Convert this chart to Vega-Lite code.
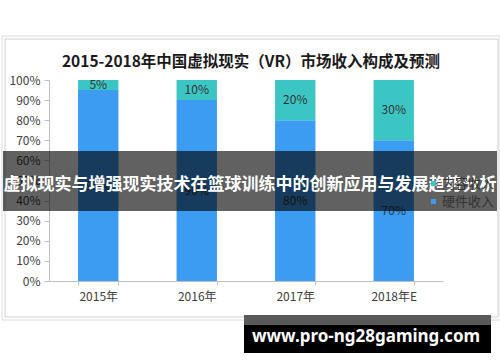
{
  "$schema": "https://vega.github.io/schema/vega-lite/v6.json",
  "width": 394,
  "height": 201,
  "autosize": {"type": "none"},
  "padding": {"left": 49, "top": 80, "right": 57, "bottom": 81},
  "background": "white",
  "title": {
    "text": "2015-2018年中国虚拟现实（VR）市场收入构成及预测",
    "font": "Noto Sans CJK SC",
    "fontSize": 15.5,
    "fontWeight": "bold",
    "color": "#1a1a1a",
    "anchor": "middle",
    "frame": "group",
    "dx": 5,
    "offset": -50,
    "baseline": "bottom"
  },
  "data": {
    "values": [
      {"year": "2015年", "type": "硬件收入", "share": 0.95},
      {"year": "2015年", "type": "内容收入", "share": 0.05},
      {"year": "2016年", "type": "硬件收入", "share": 0.9},
      {"year": "2016年", "type": "内容收入", "share": 0.1},
      {"year": "2017年", "type": "硬件收入", "share": 0.8},
      {"year": "2017年", "type": "内容收入", "share": 0.2},
      {"year": "2018年E", "type": "硬件收入", "share": 0.7},
      {"year": "2018年E", "type": "内容收入", "share": 0.3}
    ]
  },
  "config": {
    "view": {"stroke": null},
    "axis": {
      "labelFont": "Noto Sans CJK SC",
      "labelFontSize": 12,
      "labelColor": "#404040",
      "domainColor": "#bfbfbf",
      "tickColor": "#bfbfbf",
      "grid": false,
      "labelOverlap": false,
      "title": null
    },
    "legend": {
      "orient": "none",
      "legendX": 378,
      "legendY": 97,
      "padding": 0,
      "symbolType": "square",
      "symbolSize": 25,
      "symbolStrokeWidth": 0,
      "labelFont": "Noto Sans CJK SC",
      "labelFontSize": 13,
      "labelColor": "#333333",
      "rowPadding": 4,
      "labelOffset": 2
    }
  },
  "layer": [
    {
      "data": {"values": [{}]},
      "mark": {"type": "rect", "fill": "transparent", "stroke": "#dcdcdc", "strokeWidth": 1},
      "encoding": {"x": {"value": -47}, "x2": {"value": 451}, "y": {"value": -44}, "y2": {"value": 240}}
    },
    {
      "data": {"values": [{}]},
      "mark": {"type": "rect", "fill": "transparent", "stroke": "#cfcfcf", "strokeWidth": 1},
      "encoding": {"x": {"value": -44}, "x2": {"value": 449}, "y": {"value": -41}, "y2": {"value": 237}}
    },
    {
      "mark": {"type": "bar"},
      "encoding": {
        "x": {
          "field": "year",
          "type": "nominal",
          "sort": null,
          "scale": {"paddingInner": 0.59, "paddingOuter": 0.295},
          "axis": {"labelAngle": 0, "tickBand": "extent", "tickSize": 4, "labelPadding": 6}
        },
        "y": {
          "field": "share",
          "type": "quantitative",
          "stack": "zero",
          "scale": {"domain": [0, 1], "nice": false},
          "axis": {"format": ".0%", "values": [0, 0.1, 0.2, 0.3, 0.4, 0.5, 0.6, 0.7, 0.8, 0.9, 1], "tickSize": 5, "labelPadding": 4, "labelOverlap": false}
        },
        "color": {
          "field": "type",
          "type": "nominal",
          "scale": {"domain": ["内容收入", "硬件收入"], "range": ["#3cc6c3", "#3b9cf2"]},
          "legend": {"title": null}
        },
        "order": {"field": "type", "sort": "descending"}
      }
    },
    {
      "mark": {"type": "text", "font": "Noto Sans CJK SC", "fontSize": 12, "color": "#333333", "baseline": "middle"},
      "encoding": {
        "x": {"field": "year", "type": "nominal", "sort": null, "axis": {"labelAngle": 0, "tickBand": "extent", "tickSize": 4, "labelPadding": 6}},
        "y": {"field": "share", "type": "quantitative", "stack": "zero", "bandPosition": 0.5,
              "axis": {"format": ".0%", "values": [0, 0.1, 0.2, 0.3, 0.4, 0.5, 0.6, 0.7, 0.8, 0.9, 1], "tickSize": 5, "labelPadding": 4, "labelOverlap": false}},
        "detail": {"field": "type"},
        "order": {"field": "type", "sort": "descending"},
        "text": {"field": "share", "type": "quantitative", "format": ".0%"}
      }
    },
    {
      "data": {"values": [{}]},
      "mark": {"type": "rect", "fill": "#000000", "fillOpacity": 0.62},
      "encoding": {"x": {"value": -46}, "x2": {"value": 448}, "y": {"value": 71}, "y2": {"value": 131}}
    },
    {
      "data": {"values": [{"label": "虚拟现实与增强现实技术在篮球训练中的创新应用与发展趋势分析"}]},
      "mark": {"type": "text", "font": "Noto Sans CJK SC", "fontSize": 17, "fontWeight": "bold", "color": "white", "align": "center", "baseline": "middle"},
      "encoding": {"x": {"value": 201}, "y": {"value": 105}, "text": {"field": "label"}}
    },
    {
      "data": {"values": [{}]},
      "mark": {"type": "rect", "fill": "#5a5a5a"},
      "encoding": {"x": {"value": 195}, "x2": {"value": 442}, "y": {"value": 235}, "y2": {"value": 245}}
    },
    {
      "data": {"values": [{}]},
      "mark": {"type": "rect", "fill": "#000000"},
      "encoding": {"x": {"value": 195}, "x2": {"value": 442}, "y": {"value": 245}, "y2": {"value": 273}}
    },
    {
      "data": {"values": [{"label": "www.pro-ng28gaming.com"}]},
      "mark": {"type": "text", "font": "Noto Sans", "fontSize": 17, "fontWeight": "bold", "color": "white", "align": "center", "baseline": "middle"},
      "encoding": {"x": {"value": 317}, "y": {"value": 257}, "text": {"field": "label"}}
    }
  ]
}
